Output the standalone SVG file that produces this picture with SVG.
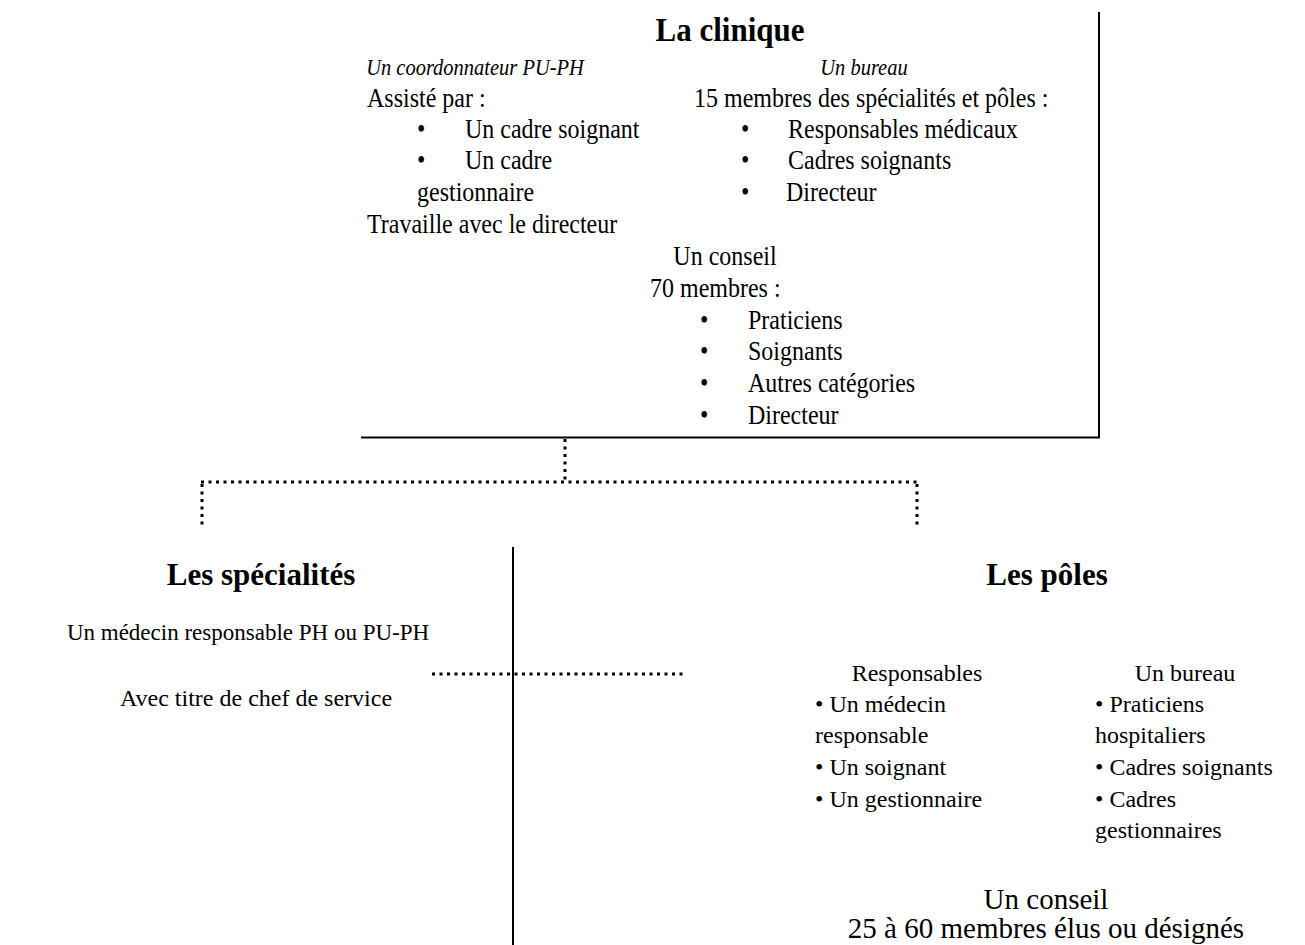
<svg xmlns="http://www.w3.org/2000/svg" width="1305" height="945" viewBox="0 0 1305 945">
<style>
text{font-family:"Liberation Serif","Times New Roman",serif;fill:#000}
.t{font-size:24px}
.it{font-size:20.5px;font-style:italic}
.h{font-size:31px;font-weight:bold}
.big{font-size:29px}
.m{text-anchor:middle}
.solid{stroke:#000;stroke-width:2;fill:none}
.dot{stroke:#000;stroke-width:3;fill:none;stroke-dasharray:3 4.5}
</style>
<rect width="1305" height="945" fill="#fff"/>
<g id="connectors">
<line class="solid" x1="1099" y1="12" x2="1099" y2="438"/>
<line class="solid" x1="361" y1="437.5" x2="1100" y2="437.5"/>
<line class="dot" x1="565" y1="439" x2="565" y2="482"/>
<line class="dot" x1="201" y1="482" x2="919" y2="482"/>
<line class="dot" x1="202" y1="484" x2="202" y2="526"/>
<line class="dot" x1="917" y1="484" x2="917" y2="526"/>
<line class="solid" x1="513" y1="547" x2="513" y2="945"/>
<line class="dot" x1="432" y1="674" x2="685" y2="674"/>
</g>
<g id="node-clinique" transform="scale(1,1.1)">
<text class="h m" x="730" y="37.27">La clinique</text>
<text class="it m" x="475" y="68.18">Un coordonnateur PU-PH</text>
<text class="it m" x="864" y="68.18">Un bureau</text>
<text class="t" x="367" y="97.27">Assisté par :</text>
<text class="t" x="694" y="97.27">15 membres des spécialités et pôles :</text>
<text class="t" x="417" y="125.45">•</text><text class="t" x="465" y="125.45">Un cadre soignant</text>
<text class="t" x="417" y="153.64">•</text><text class="t" x="465" y="153.64">Un cadre</text>
<text class="t" x="417" y="182.73">gestionnaire</text>
<text class="t" x="367" y="211.82">Travaille avec le directeur</text>
<text class="t" x="741" y="125.45">•</text><text class="t" x="788" y="125.45">Responsables médicaux</text>
<text class="t" x="741" y="153.64">•</text><text class="t" x="788" y="153.64">Cadres soignants</text>
<text class="t" x="741" y="182.73">•</text><text class="t" x="786" y="182.73">Directeur</text>
<text class="t m" x="725" y="240.91">Un conseil</text>
<text class="t" x="650" y="270">70 membres :</text>
<text class="t" x="700" y="299.09">•</text><text class="t" x="748" y="299.09">Praticiens</text>
<text class="t" x="700" y="327.27">•</text><text class="t" x="748" y="327.27">Soignants</text>
<text class="t" x="700" y="356.36">•</text><text class="t" x="748" y="356.36">Autres catégories</text>
<text class="t" x="700" y="385.45">•</text><text class="t" x="748" y="385.45">Directeur</text>
</g>
<g id="node-specialites">
<text class="h m" x="261" y="585">Les spécialités</text>
<text class="t m" x="248" y="640" style="font-size:23px">Un médecin responsable PH ou PU-PH</text>
<text class="t m" x="256" y="706">Avec titre de chef de service</text>
</g>
<g id="node-poles">
<text class="h m" x="1047" y="585">Les pôles</text>
<text class="t m" x="917" y="681">Responsables</text>
<text class="t" x="815" y="712">• Un médecin</text>
<text class="t" x="815" y="743">responsable</text>
<text class="t" x="815" y="775">• Un soignant</text>
<text class="t" x="815" y="807">• Un gestionnaire</text>
<text class="t m" x="1185" y="681">Un bureau</text>
<text class="t" x="1095" y="712">• Praticiens</text>
<text class="t" x="1095" y="743">hospitaliers</text>
<text class="t" x="1095" y="775">• Cadres soignants</text>
<text class="t" x="1095" y="807">• Cadres</text>
<text class="t" x="1095" y="838">gestionnaires</text>
<text class="big m" x="1046" y="909">Un conseil</text>
<text class="big m" x="1046" y="938">25 à 60 membres élus ou désignés</text>
</g>
</svg>
